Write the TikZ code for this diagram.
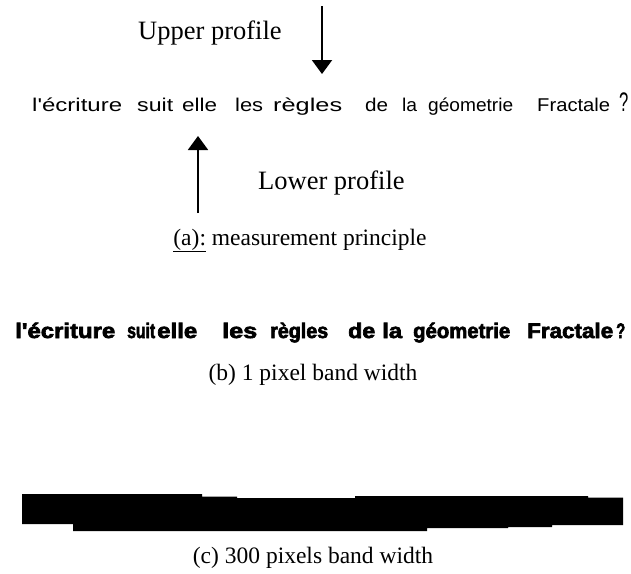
\documentclass[tikz,border=0pt]{standalone}
\usepackage{fontspec}
\usepackage{graphicx}
\setmainfont{Liberation Serif}
\newfontfamily\handfont{Liberation Sans}
\newfontfamily\blobfont{Liberation Sans Bold}[FakeBold=3]
\usetikzlibrary{arrows.meta}
\newcommand{\hw}[2]{\resizebox{#1pt}{\height}{#2}}
\tikzset{
  caption/.style={font=\fontsize{23.5}{26}\selectfont, inner sep=0pt, anchor=base},
  proflabel/.style={font=\fontsize{26.5}{29}\selectfont, inner sep=0pt, anchor=base west},
  profarrow/.style={line width=2pt, -{Triangle[width=20pt,length=14pt]}},
  hand/.style={font=\handfont\fontsize{18.5}{20}\selectfont, inner sep=0pt, anchor=base west},
  blob/.style={font=\blobfont\fontsize{21}{22}\selectfont, inner sep=0pt, anchor=base west},
}
\begin{document}
\begin{tikzpicture}[x=1pt,y=-1pt]
\useasboundingbox (0,0) rectangle (631,573);
% (a)
\node[proflabel] (up) at (138,39) {Upper profile};
\coordinate (upTop) at (322,6);
\coordinate (upTip) at (322,74);
\draw[profarrow] (upTop) -- (upTip);
\coordinate (loBot) at (198,213);
\coordinate (loTip) at (198,136);
\draw[profarrow] (loBot) -- (loTip);
\node[proflabel] (lo) at (258,189) {Lower profile};
\node[caption] (capa) at (300,245) {\underline{(a):} measurement principle};
% handwritten line
\node[hand] (w1) at (32,111) {\hw{90}{l'écriture}};
\node[hand] (w2) at (137,111) {\hw{36}{suit}};
\node[hand] (w3) at (182,111) {\hw{35}{elle}};
\node[hand] (w4) at (235,111) {\hw{28}{les}};
\node[hand] (w5) at (273,111) {\hw{69}{règles}};
\node[hand] (w6) at (365,111) {\hw{23}{de}};
\node[hand] (w7) at (402,111) {\hw{15}{la}};
\node[hand] (w8) at (428,111) {\hw{85}{géometrie}};
\node[hand] (w9) at (537,111) {\hw{73}{Fractale}};
\node[hand] (w10) at (619,111) {\scalebox{0.9}[1.45]{?}};
% (b)
\node[blob] (b1) at (15,338) {\hw{100}{l'écriture}};
\node[blob] (b2) at (127,338) {\hw{28}{suit}};
\node[blob] (b3) at (157,338) {\hw{40}{elle}};
\node[blob] (b4) at (222,338) {\hw{35}{les}};
\node[blob] (b5) at (270,338) {\hw{58}{règles}};
\node[blob] (b6) at (348,338) {\hw{27}{de}};
\node[blob] (b7) at (382,338) {\hw{20}{la}};
\node[blob] (b8) at (413,338) {\hw{97}{géometrie}};
\node[blob] (b9) at (527,338) {\hw{86}{Fractale}};
\node[blob] (b10) at (616,338) {\hw{9}{?}};
\node[caption] (capb) at (313,380) {(b) 1 pixel band width};
% (c)
\fill[black] (22,494) -- (202,494) -- (202,496.5) -- (237,496.5) -- (237,498)
  -- (355,498) -- (355,496) -- (588,496) -- (588,497.5) -- (623,497.5)
  -- (623,525) -- (552,525) -- (552,527) -- (508,527) -- (508,528)
  -- (427,528) -- (427,531) -- (73,531) -- (73,524) -- (22,524) -- cycle;
\node[caption] (capc) at (313,563) {(c) 300 pixels band width};
\end{tikzpicture}
\end{document}
